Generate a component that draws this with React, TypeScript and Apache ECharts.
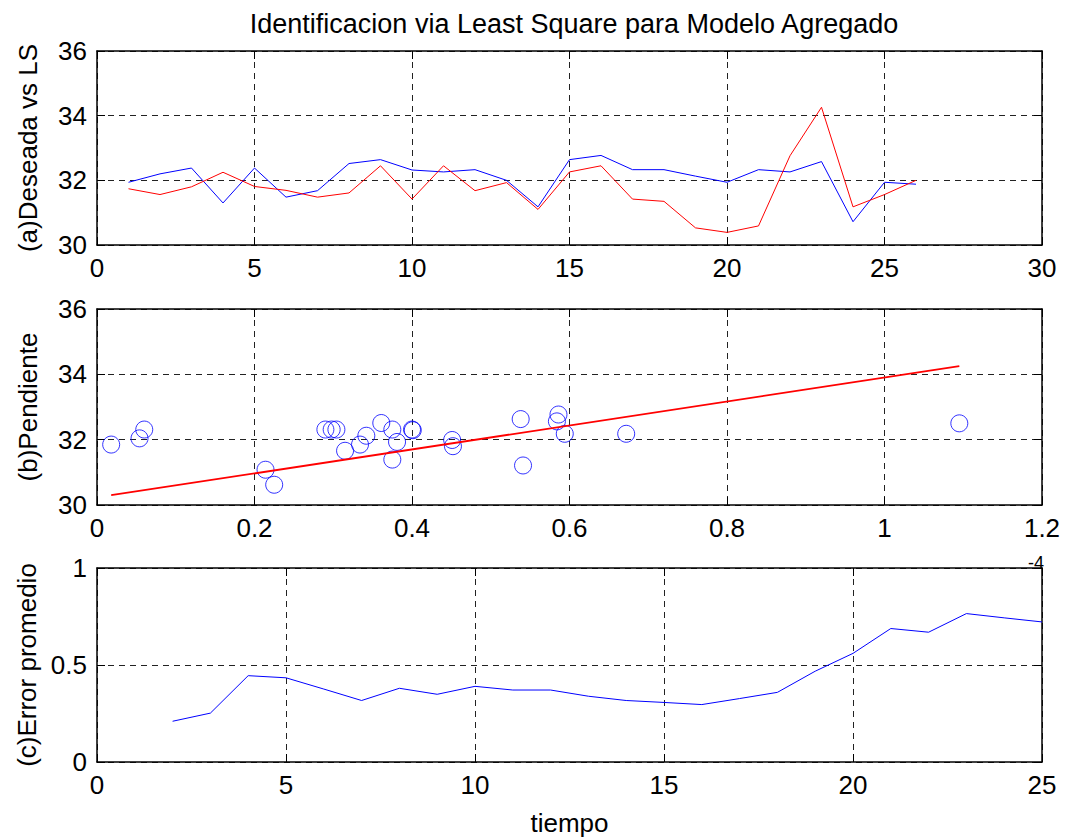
import React, { useEffect, useRef } from "react";
import * as echarts from "echarts";

// (a) time axis and the two series
const timeA = [1, 2, 3, 4, 5, 6, 7, 8, 9, 10, 11, 12, 13, 14, 15, 16, 17, 18, 19, 20, 21, 22, 23, 24, 25, 26];
const lsValues = [31.94, 32.2, 32.38, 31.3, 32.38, 31.48, 31.68, 32.52, 32.64, 32.32, 32.26, 32.33, 32.0, 31.18, 32.64, 32.77, 32.33, 32.33, 32.13, 31.94, 32.33, 32.26, 32.58, 30.72, 31.94, 31.88];
const deseadaValues = [31.74, 31.56, 31.8, 32.25, 31.81, 31.69, 31.48, 31.61, 32.45, 31.42, 32.45, 31.68, 31.93, 31.1, 32.26, 32.45, 31.42, 31.35, 30.53, 30.39, 30.59, 32.76, 34.26, 31.18, 31.56, 32.0];

// (b) slope scatter (x in units of 1e-4)
const pendX = [0.018, 0.054, 0.06, 0.214, 0.225, 0.29, 0.298, 0.304, 0.315, 0.334, 0.342, 0.361, 0.375, 0.381, 0.375, 0.4, 0.401, 0.451, 0.452, 0.538, 0.541, 0.584, 0.586, 0.594, 0.672, 1.095];
const pendY = [31.85, 32.04, 32.31, 31.08, 30.62, 32.31, 32.31, 32.31, 31.66, 31.85, 32.12, 32.51, 32.31, 31.93, 31.39, 32.31, 32.29, 31.99, 31.8, 32.63, 31.21, 32.56, 32.77, 32.18, 32.18, 32.5];
const fitX = [0.018, 1.095];
const fitY = [30.3, 34.25];

// (c) mean error
const timeC = [2, 3, 4, 5, 6, 7, 8, 9, 10, 11, 12, 13, 14, 15, 16, 17, 18, 19, 20, 21, 22, 23, 24, 25];
const errValues = [0.21, 0.252, 0.445, 0.434, 0.376, 0.317, 0.38, 0.349, 0.39, 0.371, 0.371, 0.339, 0.317, 0.307, 0.296, 0.327, 0.359, 0.468, 0.56, 0.688, 0.669, 0.765, 0.743, 0.722];

const FONT = "'Liberation Sans', Arial, Helvetica, sans-serif";

const zip = (xs: number[], ys: number[]) => xs.map((x, i) => [x, ys[i]]);

export default function App() {
  const ref = useRef<HTMLDivElement>(null);

  useEffect(() => {
    if (!ref.current) return;
    const chart = echarts.init(ref.current, null, { renderer: "svg" });

    const grids = [
      { left: 97, top: 51, width: 945, height: 194 },
      { left: 97, top: 309, width: 945, height: 196 },
      { left: 97, top: 568, width: 945, height: 195 },
    ];

    const axisLine = { show: true, onZero: false, lineStyle: { color: "#000", width: 1.5 } };
    const tick = { show: true, inside: true, length: 8, lineStyle: { color: "#000", width: 1 } };
    const split = { show: true, lineStyle: { color: "#222", type: [6, 5] as any, width: 1 } };
    const label = { color: "#000", fontSize: 26, fontFamily: FONT, margin: 10 };

    const xRanges = [
      { min: 0, max: 30, interval: 5 },
      { min: 0, max: 1.2, interval: 0.2 },
      { min: 0, max: 25, interval: 5 },
    ];
    const yRanges = [
      { min: 30, max: 36, interval: 2 },
      { min: 30, max: 36, interval: 2 },
      { min: 0, max: 1, interval: 0.5 },
    ];
    const yNames = ["(a)Deseada vs LS", "(b)Pendiente", "(c)Error promedio"];

    const xAxis: any[] = [];
    const yAxis: any[] = [];
    for (let i = 0; i < 3; i++) {
      xAxis.push({
        type: "value",
        gridIndex: i,
        position: "bottom",
        ...xRanges[i],
        axisLine,
        axisTick: tick,
        splitLine: split,
        axisLabel: {
          ...label,
          formatter: (v: number) => String(Math.round(v * 10) / 10),
        },
        name: i === 2 ? "tiempo" : "",
        nameLocation: "middle",
        nameGap: 48,
        nameTextStyle: { color: "#000", fontSize: 26, fontFamily: FONT },
      });
      xAxis.push({
        type: "value",
        gridIndex: i,
        position: "top",
        ...xRanges[i],
        axisLine,
        axisTick: tick,
        splitLine: { show: false },
        axisLabel: { show: false },
      });
      yAxis.push({
        type: "value",
        gridIndex: i,
        position: "left",
        ...yRanges[i],
        axisLine,
        axisTick: tick,
        splitLine: split,
        axisLabel: { ...label, formatter: (v: number) => String(Math.round(v * 10) / 10) },
        name: yNames[i],
        nameLocation: "middle",
        nameGap: 56,
        nameTextStyle: { color: "#000", fontSize: 26, fontFamily: FONT },
      });
      yAxis.push({
        type: "value",
        gridIndex: i,
        position: "right",
        ...yRanges[i],
        axisLine,
        axisTick: tick,
        splitLine: { show: false },
        axisLabel: { show: false },
      });
    }

    chart.setOption({
      animation: false,
      backgroundColor: "#fff",
      title: {
        text: "Identificacion via Least Square para Modelo Agregado",
        left: 569,
        textAlign: "center",
        top: 5,
        textStyle: { color: "#000", fontSize: 27, fontWeight: "normal", fontFamily: FONT },
      },
      grid: grids,
      xAxis,
      yAxis,
      graphic: [
        {
          type: "text",
          left: 1028,
          top: 554,
          style: { text: "-4", fill: "#000", fontSize: 18, fontFamily: FONT },
        },
      ],
      series: [
        {
          type: "line",
          xAxisIndex: 0,
          yAxisIndex: 0,
          data: zip(timeA, lsValues),
          symbol: "none",
          lineStyle: { color: "#0000ff", width: 1 },
        },
        {
          type: "line",
          xAxisIndex: 0,
          yAxisIndex: 0,
          data: zip(timeA, deseadaValues),
          symbol: "none",
          lineStyle: { color: "#ff0000", width: 1 },
        },
        {
          type: "scatter",
          xAxisIndex: 2,
          yAxisIndex: 2,
          data: zip(pendX, pendY),
          symbol: "circle",
          symbolSize: 17,
          itemStyle: { color: "rgba(0,0,0,0)", borderColor: "#0000ff", borderWidth: 1 },
        },
        {
          type: "line",
          xAxisIndex: 2,
          yAxisIndex: 2,
          data: zip(fitX, fitY),
          symbol: "none",
          lineStyle: { color: "#ff0000", width: 1.8 },
        },
        {
          type: "line",
          xAxisIndex: 4,
          yAxisIndex: 4,
          data: zip(timeC, errValues),
          symbol: "none",
          lineStyle: { color: "#0000ff", width: 1 },
        },
      ],
    });

    return () => chart.dispose();
  }, []);

  return (
    <div
      ref={ref}
      style={{ position: "fixed", left: 0, top: 0, width: 1066, height: 837, background: "#fff" }}
    />
  );
}
